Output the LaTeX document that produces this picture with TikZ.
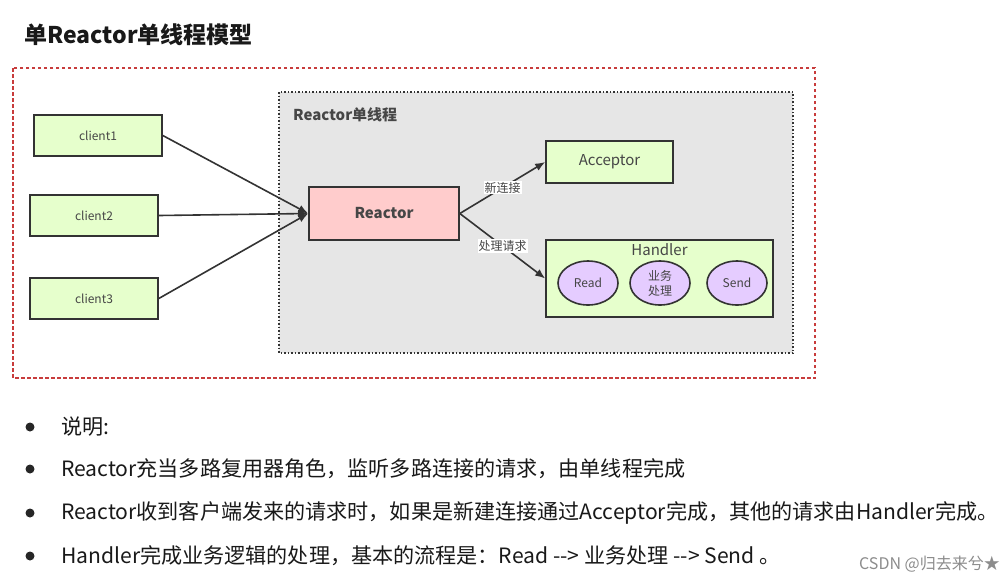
\documentclass[tikz,border=0pt]{standalone}
\usepackage{fontspec}
\setmainfont{Noto Sans CJK SC}
\usetikzlibrary{arrows.meta,shapes.geometric}
\definecolor{boxgreen}{RGB}{230,255,204}
\definecolor{boxpink}{RGB}{255,204,204}
\definecolor{boxpurple}{RGB}{229,204,255}
\definecolor{panelgray}{RGB}{230,230,230}
\definecolor{linegray}{RGB}{51,51,51}
\definecolor{framered}{RGB}{200,60,60}
\definecolor{txtgray}{RGB}{70,70,70}
\tikzset{
  fs/.style={font=\fontsize{#1}{#1}\selectfont},
  greenbox/.style={draw=linegray, line width=1.6pt, fill=boxgreen, rectangle, inner sep=0pt, text=txtgray},
  oval/.style={draw=linegray, line width=1.6pt, fill=boxpurple, ellipse, inner sep=0pt, minimum width=60pt, minimum height=44pt, text=txtgray, font=\fontsize{12}{15}\selectfont, align=center},
  conn/.style={draw=linegray, line width=1.6pt, -{Latex[length=10pt,width=8pt]}},
  elabel/.style={fill=white, inner sep=1pt, fs=12, text=txtgray},
  bulletdot/.style={circle, fill=black!85, inner sep=0pt, minimum size=9pt},
  bullettext/.style={anchor=west, fs=21.1, text=black!90, inner sep=0pt},
}
\begin{document}
\begin{tikzpicture}[x=1pt,y=-1pt]
\useasboundingbox (0,0) rectangle (1008,582);
\fill[white] (0,0) rectangle (1008,582);
% title
\node[anchor=west, inner sep=0pt, text=black!90] (title) at (24,35) {\fontsize{23}{23}\selectfont\bfseries 单Reactor单线程模型};
% outer frame
\draw[framered, line width=1.2pt, dash pattern=on 3.5pt off 2.5pt] (13,68) rectangle (815,378);
% inner panel
\draw[fill=panelgray, draw=linegray, line width=1.5pt, dotted] (279,92) rectangle (793,353);
\node[anchor=west, inner sep=0pt, text=txtgray] (paneltitle) at (293,115) {\fontsize{15}{15}\selectfont\bfseries Reactor单线程};
% clients
\node[greenbox, minimum width=128pt, minimum height=41pt, fs=12] (c1) at (98,135.5) {client1};
\node[greenbox, minimum width=128pt, minimum height=41pt, fs=12] (c2) at (94,215.5) {client2};
\node[greenbox, minimum width=128pt, minimum height=41pt, fs=12] (c3) at (94,298.5) {client3};
% reactor
\node[draw=linegray, line width=1.6pt, fill=boxpink, inner sep=0pt, minimum width=150pt, minimum height=53pt, text=txtgray] (reactor) at (384,213.5) {\fontsize{15}{15}\selectfont\bfseries Reactor};
% acceptor
\node[greenbox, minimum width=127pt, minimum height=42pt, fs=15] (acc) at (609.5,162) {Acceptor};
% handler
\node[greenbox, minimum width=227pt, minimum height=77pt] (hand) at (659.5,278.5) {};
\node[fs=15, text=txtgray, inner sep=0pt] (handtitle) at (659.5,250) {Handler};
\node[oval] (read) at (588,283) {Read};
\node[oval] (biz) at (660,283) {业务\\处理};
\node[oval] (send) at (737,283) {Send};
% connectors
\draw[conn] (c1.east) -- (reactor.west);
\draw[conn] (c2.east) -- (reactor.west);
\draw[conn] (c3.east) -- (reactor.west);
\draw[conn] (reactor.east) -- node[elabel] {新连接} (acc.west);
\draw[conn] (reactor.east) -- node[elabel] {处理请求} (hand.west);
% bullets
\node[bulletdot] (b1) at (30,427) {};
\node[bullettext] (t1) at (61,427) {说明:};
\node[bulletdot] (b2) at (30,469) {};
\node[bullettext] (t2) at (61,469) {Reactor充当多路复用器角色，监听多路连接的请求，由单线程完成};
\node[bulletdot] (b3) at (30,513) {};
\node[bullettext] (t3) at (61,513) {Reactor收到客户端发来的请求时，如果是新建连接通过Acceptor完成，其他的请求由Handler完成。};
\node[bulletdot] (b4) at (30,556) {};
\node[bullettext] (t4) at (61,556) {Handler完成业务逻辑的处理，基本的流程是：Read -{}-> 业务处理 -{}-> Send 。};
% watermark
\node[anchor=east, fs=16, text=black!45, inner sep=0pt] (wm) at (1000,564) {CSDN @归去来兮★};
\end{tikzpicture}
\end{document}
